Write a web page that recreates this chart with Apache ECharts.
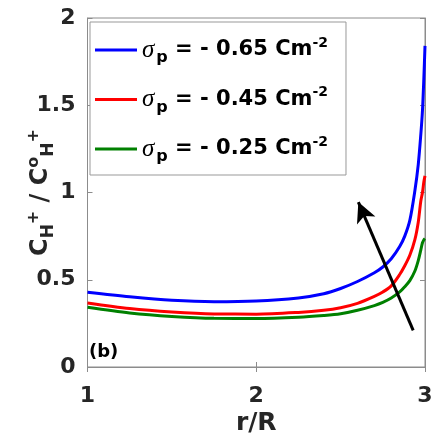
<!DOCTYPE html>
<html>
<head>
<meta charset="utf-8">
<title>C_H+ / C°_H+ vs r/R</title>
<script src="https://cdn.jsdelivr.net/npm/echarts@6/dist/echarts.min.js"></script>
<style>
  html, body { margin: 0; padding: 0; background: #fff; }
  #chart { width: 437px; height: 445px; }
</style>
</head>
<body>
<div id="chart"></div>
<script>
// -----------------------------------------
// DATA
// -----------------------------------------
const rR = [1.0, 1.25, 1.5, 1.75, 2.0, 2.25, 2.4, 2.5, 2.6, 2.7, 2.75, 2.8, 2.85, 2.88, 2.91, 2.94, 2.96, 2.975, 2.985, 2.993, 3.0];

const sigmaLabels = ['- 0.65', '- 0.45', '- 0.25'];

const conc065 = [0.428, 0.402, 0.382, 0.374, 0.378, 0.396, 0.42, 0.45, 0.49, 0.54, 0.573, 0.62, 0.69, 0.75, 0.84, 1.01, 1.16, 1.33, 1.47, 1.65, 1.84];
const conc045 = [0.367, 0.335, 0.315, 0.304, 0.303, 0.313, 0.325, 0.34, 0.365, 0.405, 0.43, 0.465, 0.53, 0.58, 0.64, 0.73, 0.83, 0.95, 1.0, 1.06, 1.095];
const conc025 = [0.342, 0.31, 0.29, 0.279, 0.278, 0.285, 0.295, 0.305, 0.325, 0.352, 0.37, 0.395, 0.43, 0.46, 0.495, 0.55, 0.61, 0.67, 0.712, 0.728, 0.735];

const xTicks = [1, 2, 3];
const yTicks = [0, 0.5, 1, 1.5, 2];

// arrow annotation (tail -> head), in data units
const arrowTail = [2.93, 0.21];
const arrowHead = [2.605, 0.945];

const colors = ['#0000ff', '#ff0000', '#008000'];

// -----------------------------------------
// HELPERS
// -----------------------------------------
const pairs = vals => rR.map((x, i) => [x, vals[i]]);

const FONT = 'DejaVu Sans';
const INK = '#262626';
const FRAME = '#8c8c8c';

const legendRich = {
  s: { fontFamily: 'Liberation Serif', fontStyle: 'italic', fontSize: 25, color: '#000', lineHeight: 30 },
  p: { fontFamily: FONT, fontWeight: 'bold', fontSize: 16, color: '#000', padding: [16, 0, 0, 2] },
  t: { fontFamily: FONT, fontWeight: 'bold', fontSize: 21, color: '#000', lineHeight: 30 },
  e: { fontFamily: FONT, fontWeight: 'bold', fontSize: 14, color: '#000', padding: [0, 0, 14, 0] }
};

const yNameRich = {
  c: { fontFamily: FONT, fontWeight: 'bold', fontSize: 24, color: INK, lineHeight: 30 },
  sb: { fontFamily: FONT, fontWeight: 'bold', fontSize: 17, color: INK, padding: [16, 0, 0, 0] },
  sp: { fontFamily: FONT, fontWeight: 'bold', fontSize: 16, color: INK, padding: [0, 0, 14, 0] }
};

// -----------------------------------------
// CHART
// -----------------------------------------
const chart = echarts.init(document.getElementById('chart'), null, { renderer: 'canvas' });

const series = [conc065, conc045, conc025].map((vals, i) => ({
  name: sigmaLabels[i],
  type: 'line',
  data: pairs(vals),
  symbol: 'none',
  smooth: 0.3,
  lineStyle: { color: colors[i], width: 3 },
  itemStyle: { color: colors[i] },
  z: 3
}));

// black arrow drawn as a markLine on the last series
series[2].markLine = {
  silent: true,
  symbol: ['none', 'arrow'],
  symbolSize: [15, 20],
  label: { show: false },
  lineStyle: { color: '#000', width: 3, type: 'solid' },
  data: [[{ coord: arrowTail }, { coord: arrowHead }]]
};

const option = {
  animation: false,
  backgroundColor: '#fff',
  grid: {
    left: 87.5, right: 12, top: 18, bottom: 78,
    outerBoundsMode: 'none',
    containLabel: false,
    show: true, borderColor: FRAME, borderWidth: 1
  },
  legend: {
    orient: 'vertical',
    left: 90, top: 22,
    padding: [14, 18, 10, 5],
    icon: 'rect',
    itemWidth: 42,
    itemHeight: 3,
    itemGap: 19.5,
    borderColor: '#999',
    borderWidth: 1,
    backgroundColor: '#fff',
    formatter: name => `{s|σ}{p|p}{t| = ${name} Cm}{e|-2}`,
    textStyle: { rich: legendRich }
  },
  graphic: [{
    type: 'text',
    left: 89, top: 343,
    style: { text: '(b)', font: `bold 18px "${FONT}"`, fill: '#000' }
  }],
  xAxis: [{
    type: 'value',
    min: xTicks[0], max: xTicks[xTicks.length - 1], interval: 1,
    name: 'r/R',
    nameLocation: 'middle',
    nameGap: 44,
    nameMoveOverlap: false,
    nameTextStyle: { fontFamily: FONT, fontWeight: 'bold', fontSize: 25, color: INK },
    axisLine: { lineStyle: { color: FRAME } },
    axisTick: { inside: true, length: 5, lineStyle: { color: FRAME } },
    axisLabel: { margin: 18, fontFamily: FONT, fontWeight: 'bold', fontSize: 22, color: INK },
    splitLine: { show: false }
  }, {
    type: 'value', position: 'top',
    min: xTicks[0], max: xTicks[xTicks.length - 1], interval: 1,
    axisLine: { lineStyle: { color: FRAME } },
    axisTick: { inside: true, length: 5, lineStyle: { color: FRAME } },
    axisLabel: { show: false },
    splitLine: { show: false }
  }],
  yAxis: [{
    type: 'value',
    min: yTicks[0], max: yTicks[yTicks.length - 1], interval: 0.5,
    name: '{c|C}{sb|H}{sp|+}{c| / C}{sp|o}{sb|H}{sp|+}',
    nameLocation: 'middle',
    nameRotate: 90,
    nameGap: 30,
    nameMoveOverlap: false,
    nameTextStyle: { rich: yNameRich },
    axisLine: { lineStyle: { color: FRAME } },
    axisTick: { inside: true, length: 5, lineStyle: { color: FRAME } },
    axisLabel: { margin: 12, fontFamily: FONT, fontWeight: 'bold', fontSize: 22, color: INK },
    splitLine: { show: false }
  }, {
    type: 'value', position: 'right',
    min: yTicks[0], max: yTicks[yTicks.length - 1], interval: 0.5,
    axisLine: { show: true, lineStyle: { color: FRAME } },
    axisTick: { inside: true, length: 5, lineStyle: { color: FRAME } },
    axisLabel: { show: false },
    splitLine: { show: false }
  }],
  series
};

chart.setOption(option);
</script>
</body>
</html>
